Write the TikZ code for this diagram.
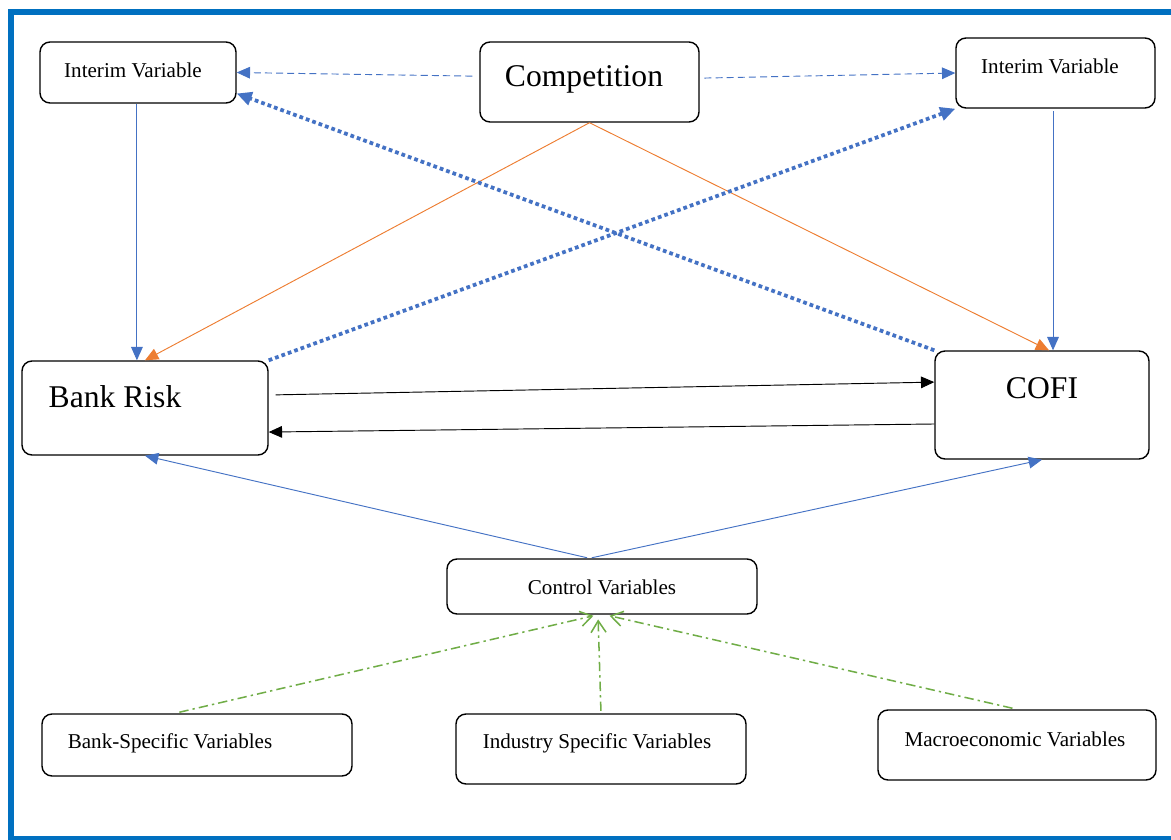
\documentclass[tikz,border=0pt]{standalone}
\usepackage{fontspec}
\setmainfont{Liberation Serif}
\usetikzlibrary{calc, positioning}
\usetikzlibrary{arrows.meta}

\definecolor{frameblue}{HTML}{0070C0}
\definecolor{linkblue}{HTML}{4472C4}
\definecolor{linkorange}{HTML}{ED7D31}
\definecolor{linkgreen}{HTML}{70AD47}

\begin{document}
\begin{tikzpicture}[x=0.03cm, y=-0.03cm,
  box/.style={draw, rounded corners=0.3cm, line width=1.2pt, inner sep=0pt, fill=white},
  small/.style={inner sep=0pt, font=\fontsize{18}{20}\selectfont},
  big/.style={inner sep=0pt, font=\fontsize{27}{30}\selectfont},
  tip/.style={-{Triangle[length=4mm, width=3.5mm]}},
  bluelink/.style={tip, linkblue, line width=0.8pt},
  orangelink/.style={tip, linkorange, line width=0.8pt},
  dashlink/.style={tip, linkblue, line width=0.8pt, dash pattern=on 6pt off 3.5pt},
  dotlink/.style={-{Triangle[length=4.5mm, width=4mm]}, linkblue, line width=3.2pt, dash pattern=on 3.2pt off 2.6pt},
  greenlink/.style={-{Straight Barb[length=3.5mm, width=4.5mm]}, linkgreen, line width=1.3pt,
    dash pattern=on 8pt off 3.5pt on 2pt off 3.5pt}]
\clip (0,0) rectangle (1171,840);

% frame
\draw[frameblue, line width=0.18cm] (1200,12) -- (11,12) -- (11,839) -- (1200,839);

% boxes
\node[box, minimum width=5.88cm, minimum height=1.83cm] (IL) at (138,72.5) {};
\node[box, minimum width=6.57cm, minimum height=2.4cm] (C) at (589.5,82) {};
\node[box, minimum width=5.97cm, minimum height=2.1cm] (IR) at (1055.5,73) {};
\node[box, minimum width=7.38cm, minimum height=2.82cm] (BR) at (145,408) {};
\node[box, minimum width=6.42cm, minimum height=3.24cm] (CF) at (1042,405) {};
\node[box, minimum width=9.3cm, minimum height=1.65cm] (CV) at (602,586.5) {};
\node[box, minimum width=9.3cm, minimum height=1.86cm] (BS) at (197,745) {};
\node[box, minimum width=8.7cm, minimum height=2.1cm] (IS) at (601,749) {};
\node[box, minimum width=8.34cm, minimum height=2.1cm] (ME) at (1017,745) {};

% texts
\node[small] (ILt) at (133,70) {Interim Variable};
\node[big] (Ct) at (584,79) {Competition};
\node[small] (IRt) at (1050,66) {Interim Variable};
\node[big] (BRt) at (115,397) {Bank Risk};
\node[big] (CFt) at (1042,388) {COFI};
\node[small] (CVt) at (602,587) {Control Variables};
\node[small] (BSt) at (170,743) {Bank-Specific Variables};
\node[small] (ISt) at (597,743) {Industry Specific Variables};
\node[small] (MEt) at (1015,739) {Macroeconomic Variables};

% competition to interim variables
\draw[dashlink, shorten <=6pt] (C.177) -- (IL.east);
\draw[dashlink, shorten <=4pt] (C.2) -- (IR.west);

% interim variables down
\draw[bluelink] (IL.-92) -- (IL.-92 |- BR.north);
\draw[bluelink, shorten <=2pt] (IR.-94) -- (IR.-94 |- CF.north);

% competition to bank risk and cofi
\draw[orangelink] (C.south) -- (BR.north);
\draw[orangelink] (C.south) -- ($(CF.north)+(7,0)$);

% dotted cross links
\draw[dotlink] (BR.north east) -- (IR.south west);
\draw[dotlink] (CF.north west) -- (IL.-12);

% bank risk <-> cofi
\draw[-{Triangle[length=4mm, width=3.5mm]}, line width=0.8pt, shorten <=6pt] (BR.6) -- (CF.168);
\draw[-{Triangle[length=4mm, width=3.5mm]}, line width=0.8pt] (CF.190) -- (BR.-11);

% control variables
\draw[bluelink, shorten <=2pt] (CV.114) -- (BR.south);
\draw[bluelink, shorten <=2pt] (CV.114) -- (CF.south);

% green links
\draw[greenlink, shorten <=4pt, shorten >=4pt] (BS.125) -- ($(CV.south)+(-4,0)$);
\draw[greenlink, shorten <=2pt, shorten >=4pt] (IS.north) -- ($(CV.south)+(-4,0)$);
\draw[greenlink, shorten <=4pt, shorten >=4pt] (ME.north) -- ($(CV.south)+(3,0)$);
\end{tikzpicture}
\end{document}
